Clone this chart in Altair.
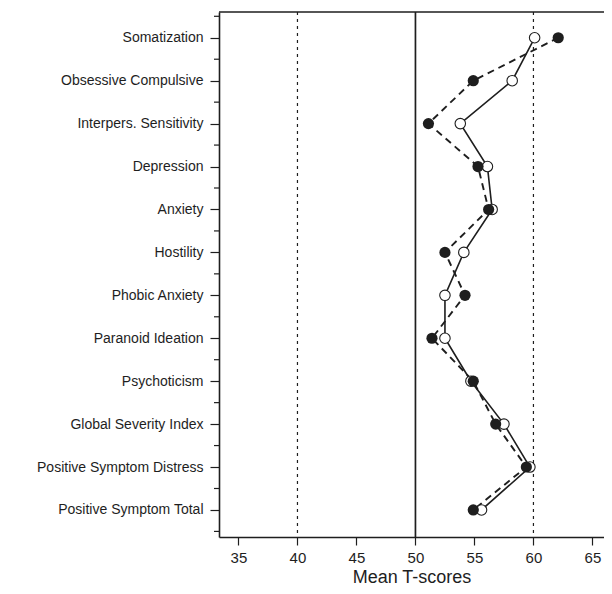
import altair as alt
import pandas as pd

categories = [
    "Somatization", "Obsessive Compulsive", "Interpers. Sensitivity", "Depression",
    "Anxiety", "Hostility", "Phobic Anxiety", "Paranoid Ideation", "Psychoticism",
    "Global Severity Index", "Positive Symptom Distress", "Positive Symptom Total",
]
open_values = [60.1, 58.2, 53.8, 56.1, 56.5, 54.1, 52.5, 52.5, 54.7, 57.5, 59.7, 55.6]
filled_values = [62.1, 54.9, 51.1, 55.3, 56.2, 52.5, 54.2, 51.4, 54.9, 56.8, 59.4, 54.9]
x_ticks = [35, 40, 45, 50, 55, 60, 65]
dotted_refs = [40, 60]
solid_refs = [50]
x_domain = [33.35, 65.98]

positions = list(range(1, len(categories) + 1))
df_open = pd.DataFrame({"cat": categories, "pos": positions, "val": open_values})
df_filled = pd.DataFrame({"cat": categories, "pos": positions, "val": filled_values})
minor_ticks = pd.DataFrame({"pos": [p + 0.5 for p in range(0, len(categories) + 1)]})

label_expr = "".join(
    f"datum.value == {i} ? '{c}' : " for i, c in enumerate(categories, 1)
) + "''"

FONT = "Liberation Sans"
INK = "#1e1e1e"

x_scale = alt.Scale(domain=x_domain, nice=False, zero=False)
y_scale = alt.Scale(domain=[0.4, 12.63], nice=False, zero=False, reverse=True)

x_axis = alt.Axis(values=x_ticks, grid=False, tickSize=8, labelPadding=5,
                  titlePadding=3, domain=True, domainColor=INK, domainWidth=1.6,
                  tickColor=INK, tickWidth=1.2, labelFontSize=15, titleFontSize=18)
y_axis = alt.Axis(values=positions, grid=False, labelExpr=label_expr, tickSize=9,
                  labelPadding=7, domain=True, domainColor=INK, domainWidth=1.6,
                  tickColor=INK, tickWidth=1.2, labelOverlap=False, labelFontSize=14)


def xq(field):
    return alt.X(field, type="quantitative", scale=x_scale, title="Mean T-scores", axis=x_axis)


def yq():
    return alt.Y("pos", type="quantitative", scale=y_scale, title=None, axis=y_axis)


top_border = alt.Chart(pd.DataFrame({"x0": [x_domain[0]], "x1": [x_domain[1]]})).mark_rule(
    color=INK, strokeWidth=1.6
).encode(x=xq("x0"), x2="x1", y=alt.value(0))
minor_rule = alt.Chart(minor_ticks).mark_rule(color=INK, strokeWidth=1.2).encode(
    y=yq(), x=alt.value(-5), x2=alt.value(0))
solid_rule = alt.Chart(pd.DataFrame({"val": solid_refs})).mark_rule(
    color=INK, strokeWidth=1.7
).encode(x=xq("val"))
dotted_rule = alt.Chart(pd.DataFrame({"val": dotted_refs})).mark_rule(
    color=INK, strokeWidth=1.2, strokeDash=[3, 4]
).encode(x=xq("val"))

line_open = alt.Chart(df_open).mark_line(color=INK, strokeWidth=1.6).encode(
    x=xq("val"), y=yq(), order="pos:Q")
line_filled = alt.Chart(df_filled).mark_line(color=INK, strokeWidth=1.9, strokeDash=[7, 5]).encode(
    x=xq("val"), y=yq(), order="pos:Q")
pts_open = alt.Chart(df_open).mark_point(
    shape="circle", filled=True, fill="white", stroke=INK, strokeWidth=1.1, size=110, opacity=1
).encode(x=xq("val"), y=yq())
pts_filled = alt.Chart(df_filled).mark_point(
    shape="circle", filled=True, color=INK, size=125, opacity=1
).encode(x=xq("val"), y=yq())

chart = alt.layer(
    line_open, top_border, minor_rule, dotted_rule, solid_rule, line_filled, pts_open, pts_filled
).properties(
    width=385, height=525,
    autosize=alt.AutoSizeParams(type="none"),
    padding={"left": 211, "top": 4, "right": 0, "bottom": 49},
    background="white",
).configure_view(
    stroke=None
).configure_axis(
    labelFont=FONT, titleFont=FONT, labelColor=INK, titleColor=INK,
    titleFontWeight="normal",
)

chart.save("out.html", embed_options={"renderer": "svg", "actions": False})
